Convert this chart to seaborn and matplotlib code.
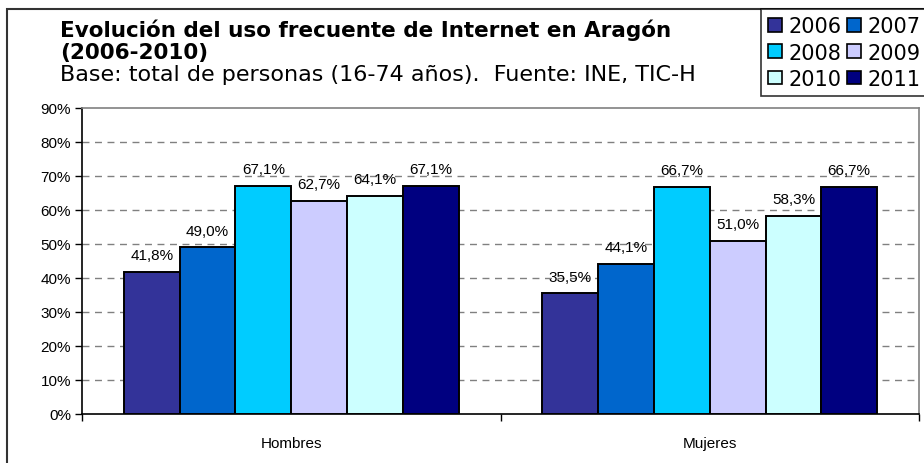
import numpy as np
import pandas as pd
import seaborn as sns
import matplotlib.pyplot as plt
from matplotlib.patches import Rectangle, Patch
from matplotlib.ticker import StrMethodFormatter, FixedLocator

# data
sexos = ['Hombres', 'Mujeres']
anios = ['2006', '2007', '2008', '2009', '2010', '2011']
hombres = [41.8, 49.0, 67.1, 62.7, 64.1, 67.1]
mujeres = [35.5, 44.1, 66.7, 51.0, 58.3, 66.7]
colores = ['#333399', '#0066CC', '#00CCFF', '#CCCCFF', '#CCFFFF', '#000080']

df = pd.DataFrame({
    'sexo': np.repeat(sexos, len(anios)),
    'anio': anios * 2,
    'valor': hombres + mujeres,
})

sns.set_style('white')
plt.rcParams['font.family'] = ['Liberation Sans', 'DejaVu Sans']
plt.rcParams['text.color'] = 'black'
plt.rcParams['xtick.color'] = 'black'
plt.rcParams['ytick.color'] = 'black'

fig = plt.figure(figsize=(9.24, 4.64), dpi=100)
ax = fig.add_axes([82/924, 1 - 415/464, (919 - 82)/924, (415 - 109)/464])

sns.barplot(data=df, x='sexo', y='valor', hue='anio', palette=colores, saturation=1,
            width=0.8, gap=0, edgecolor='black', linewidth=1.4,
            legend=False, ax=ax, zorder=3)

# data labels
for cont in ax.containers:
    ax.bar_label(cont, labels=[f'{v:.1f}%'.replace('.', ',') for v in cont.datavalues],
                 padding=7, fontsize=11, color='black')

ax.set_ylim(0, 90)
ax.set_xlim(-0.5, 1.5)
ax.yaxis.set_major_locator(FixedLocator(range(0, 91, 10)))
ax.yaxis.set_major_formatter(StrMethodFormatter('{x:.0f}%'))
for y in range(10, 90, 10):
    ax.axhline(y, color='#808080', linestyle=(0, (5, 4)), linewidth=1, zorder=1)

ax.set_xlabel('')
ax.set_ylabel('')
ax.tick_params(axis='y', which='major', left=True, length=5, width=1,
               labelsize=11, pad=3)
ax.tick_params(axis='x', which='major', bottom=False, labelsize=11, pad=12)
ax.xaxis.set_minor_locator(FixedLocator([-0.5, 0.5, 1.5]))
ax.tick_params(axis='x', which='minor', bottom=True, length=5, width=1)

for s in ['left', 'bottom']:
    ax.spines[s].set_color('black')
    ax.spines[s].set_linewidth(1.2)
for s in ['top', 'right']:
    ax.spines[s].set_color('#808080')
    ax.spines[s].set_linewidth(1.2)

# title block
fig.text(60/924, 1 - 30/464, 'Evolución del uso frecuente de Internet en Aragón',
         fontsize=15.5, fontweight='bold', family='DejaVu Sans', va='center', ha='left')
fig.text(60/924, 1 - 53/464, '(2006-2010)',
         fontsize=15.5, fontweight='bold', family='DejaVu Sans', va='center', ha='left')
fig.text(60/924, 1 - 75/464, 'Base: total de personas (16-74 años).  Fuente: INE, TIC-H',
         fontsize=16, family='DejaVu Sans', va='center', ha='left')

# legend, row-wise order
handles = [Patch(facecolor=c, edgecolor='black', linewidth=1.2) for c in colores]
order = [0, 2, 4, 1, 3, 5]
leg = fig.legend([handles[i] for i in order], [anios[i] for i in order], ncol=2,
                 loc='upper left', bbox_to_anchor=(761/924, 1 - 10/464),
                 frameon=True, fancybox=False, edgecolor='black', borderaxespad=0,
                 handlelength=0.65, handleheight=0.65, handletextpad=0.3,
                 columnspacing=0.3, labelspacing=0.3, borderpad=0.35,
                 prop={'family': 'DejaVu Sans', 'size': 15})
leg.get_frame().set_linewidth(1.2)

# outer frame
fig.add_artist(Rectangle((7/924, -0.1), 1.2, 1.1 - 10/464, transform=fig.transFigure,
                         fill=False, edgecolor='#333333', linewidth=1.5, clip_on=False))

fig.savefig('out.png', dpi=100)
